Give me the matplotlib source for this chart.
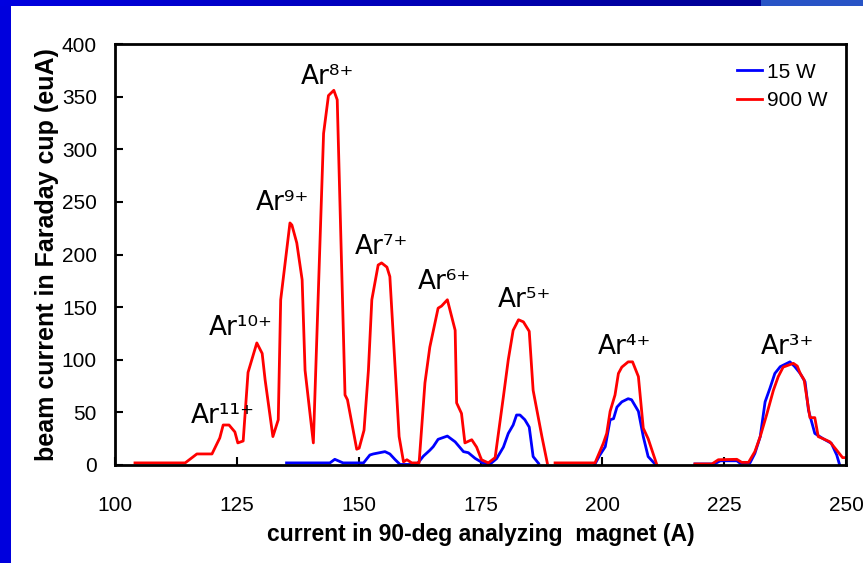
import numpy as np
import matplotlib.pyplot as plt

nan = np.nan

# 15 W spectrum
x_15 = [135.2, 144.1, 145.1, 146.8, 151.0, 152.3, 153.0, 155.4, 156.4, 157.5, 158.5, 161.9,
        163.3, 164.6, 165.3, 166.3, 168.2, 169.8, 171.5, 172.5, 173.9, 175.6, 177.0, 178.3,
        179.7, 180.7, 181.7, 182.4, 183.1, 184.1, 185.0, 185.8, 186.9, nan,
        198.5, 199.5, 200.6, 201.6, 202.3, 203.0, 204.0, 205.3, 206.0, 207.4, 208.4, 209.4, 210.8, nan,
        219.0, 223.0, 224.2, 227.6, 228.3, 230.3, 231.3, 232.4, 233.4, 234.4, 235.4, 236.5,
        238.5, 239.5, 240.6, 241.6, 242.3, 243.6, 245.3, 247.0, 248.1, 248.7]
y_15 = [2, 2, 5.4, 2, 2, 9.5, 10.5, 12.7, 10.5, 5, 0.5, 0.5,
        8.5, 14, 17.4, 24.4, 27.5, 22, 12.7, 11.7, 6.3, 1.6, 1, 6,
        17, 30, 38, 47.5, 47.5, 43, 36, 8, 1.6, nan,
        1, 9.5, 17.4, 43, 44, 55, 60, 63, 62, 51, 27, 8, 1, nan,
        1, 1, 4, 4, 1.6, 2, 11, 27, 60, 73, 87, 93.4,
        98, 93.4, 87, 79, 52, 30, 25, 20.6, 9.5, 0]

# 900 W spectrum
x_900 = [104.1, 114.4, 116.8, 119.9, 121.5, 122.2, 123.4, 124.6, 125.2, 126.3, 127.3, 129.1,
         130.2, 130.8, 132.4, 133.5, 134.0, 135.9, 136.3, 137.3, 138.4, 139.0, 140.7, 142.8,
         143.8, 144.9, 145.6, 147.2, 147.7, 149.6, 150.1, 151.1, 152.0, 152.7, 154.0, 154.7,
         155.8, 156.4, 158.3, 159.2, 159.9, 160.9, 162.4, 163.6, 164.6, 166.3, 167.0, 168.2,
         169.8, 170.1, 171.1, 171.8, 173.2, 174.2, 175.2, 176.6, 178.0, 179.7, 180.7, 181.7,
         182.8, 183.8, 185.0, 185.8, 187.6, 188.7, nan,
         190.3, 198.5, 200.2, 200.9, 201.6, 202.6, 203.3, 204.0, 205.3, 206.2, 207.4, 208.4,
         209.4, 211.2, nan,
         219.0, 222.5, 223.8, 227.6, 228.6, 230.0, 231.3, 232.4, 233.7, 235.1, 236.1, 237.1,
         239.2, 240.0, 240.6, 241.4, 242.6, 243.6, 244.3, 245.3, 246.7, 248.1, 249.3, 250.0]
y_900 = [2, 2, 10.5, 10.5, 25.7, 38, 38, 31.4, 21, 22.8, 88, 116,
         106, 81, 27, 43, 157, 230, 228, 211, 176, 90, 21, 315,
         351, 356, 347, 66.5, 62, 15, 16, 33, 90, 157, 190, 192,
         188, 179, 27, 3, 5, 2, 2, 78, 112, 149, 151, 157,
         128, 59, 49, 21, 24, 17, 5, 2, 7, 65, 100, 128,
         138, 136, 127, 71, 27, 2, nan,
         2, 2, 20.6, 30, 51, 66.5, 87, 93, 98, 98, 84, 35,
         25, 0, nan,
         1, 1, 5, 5.4, 2.5, 2.5, 12.7, 27, 47.5, 71, 84, 93,
         96.6, 94, 87, 81, 45, 45, 27, 25, 22, 14, 7, 7]

# charge state labels
ions = ["Ar¹¹⁺", "Ar¹⁰⁺", "Ar⁹⁺", "Ar⁸⁺", "Ar⁷⁺", "Ar⁶⁺", "Ar⁵⁺", "Ar⁴⁺", "Ar³⁺"]
ion_x = [122.2, 125.9, 134.3, 143.7, 154.6, 167.5, 184.1, 204.5, 237.9]
ion_y = [40, 123.5, 242, 362, 200.5, 167, 150, 105.5, 105.5]

plt.rcParams['font.family'] = ['Liberation Sans', 'DejaVu Sans']

fig = plt.figure(figsize=(8.63, 5.63), dpi=100)

# blue slide frame
left = fig.add_axes([0, 0, 11 / 863, 1])
left.set_facecolor('#0000dd')
left.set_xticks([])
left.set_yticks([])
for s in left.spines.values():
    s.set_visible(False)

top = fig.add_axes([0, 1 - 6 / 563, 1, 6 / 563])
grad = np.zeros((1, 863, 3))
t = np.linspace(0, 1, 760)
grad[0, :760, 2] = (0.88 - 0.3 * t)
grad[0, 760:] = [0.16, 0.33, 0.78]
top.imshow(grad, aspect='auto', extent=[0, 1, 0, 1])
top.axis('off')

ax = fig.add_axes([115 / 863, 98 / 563, 731 / 863, 421 / 563])
ax.plot(x_15, y_15, color='#0000ff', lw=2.0, label='15 W')
ax.plot(x_900, y_900, color='#ff0000', lw=2.0, label='900 W')

for name, xx, yy in zip(ions, ion_x, ion_y):
    ax.text(xx, yy, name, ha='center', va='baseline', fontsize=19, family='DejaVu Sans')

ax.set_xlim(100, 250)
ax.set_ylim(0, 400)
ax.set_xticks(np.arange(100, 251, 25))
ax.set_yticks(np.arange(0, 401, 50))
ax.tick_params(axis='x', direction='in', length=6, width=1.5, labelsize=15, pad=22)
ax.tick_params(axis='y', direction='in', length=6, width=1.5, labelsize=15, pad=13)
for s in ax.spines.values():
    s.set_linewidth(2)

ax.set_xlabel('current in 90-deg analyzing  magnet (A)', fontsize=16.5, fontweight='bold', labelpad=6)
ax.set_ylabel('beam current in Faraday cup (euA)', fontsize=18, fontweight='bold', labelpad=2)

ax.legend(loc='upper right', frameon=False, fontsize=15, handlelength=1.2,
          handletextpad=0.2, labelspacing=0.45, borderaxespad=0.5)

fig.savefig('out.png', dpi=100)
